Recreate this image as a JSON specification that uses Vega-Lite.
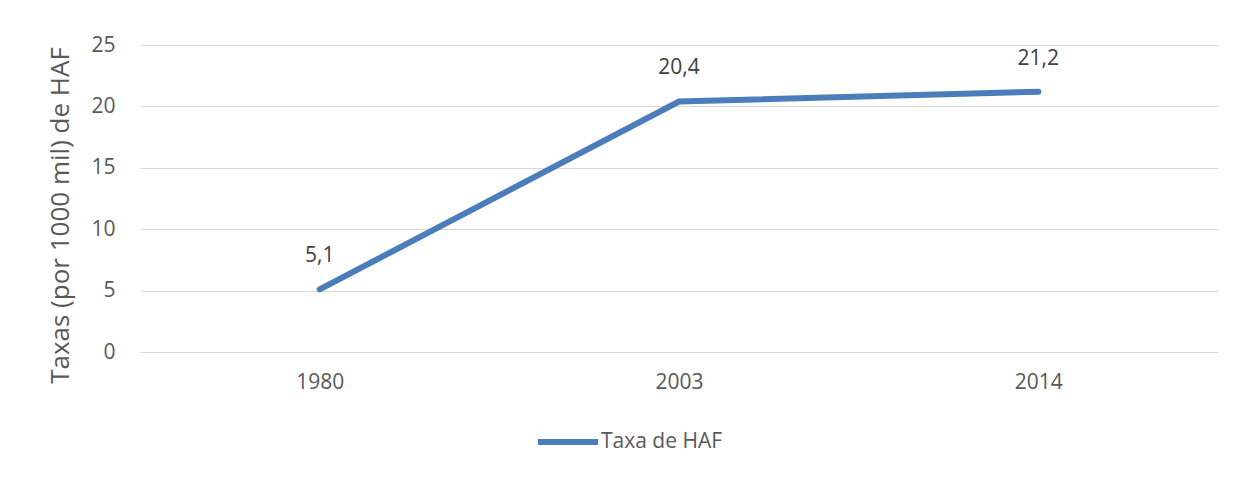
{
  "$schema": "https://vega.github.io/schema/vega-lite/v6.json",
  "autosize": {"type": "none"},
  "padding": {"left": 140, "top": 45, "right": 18, "bottom": 127},
  "width": 1078,
  "height": 307,
  "background": "white",
  "config": {
    "view": {"stroke": null},
    "font": "Open Sans",
    "axis": {"labelColor": "#595959", "titleColor": "#595959", "labelFont": "Open Sans", "titleFont": "Open Sans"}
  },
  "data": {"values": [
    {"ano": "1980", "taxa": 5.1, "rotulo": "5,1", "serie": "Taxa de HAF"},
    {"ano": "2003", "taxa": 20.4, "rotulo": "20,4", "serie": "Taxa de HAF"},
    {"ano": "2014", "taxa": 21.2, "rotulo": "21,2", "serie": "Taxa de HAF"}
  ]},
  "encoding": {
    "x": {"field": "ano", "type": "ordinal", "scale": {"paddingInner": 0, "paddingOuter": 0, "align": 0.5}, "axis": {"title": null, "labelAngle": 0, "ticks": false, "domain": false, "labelFontSize": 21, "labelPadding": 19, "grid": false}},
    "y": {"field": "taxa", "type": "quantitative", "scale": {"domain": [0, 25]}, "axis": {"values": [0, 5, 10, 15, 20, 25], "title": "Taxas (por 1000 mil) de HAF", "titleFontSize": 26, "titleFontWeight": "normal", "titleAngle": -90, "titleX": -80, "titleY": 170, "titleAlign": "center", "titleBaseline": "middle", "ticks": false, "domain": false, "labelFontSize": 21, "labelPadding": 25, "gridColor": "#d9d9d9", "gridWidth": 1.2}}
  },
  "layer": [
    {
      "mark": {"type": "line", "strokeWidth": 6, "strokeCap": "round", "color": "#4a7dba"},
      "encoding": {
        "color": {"field": "serie", "type": "nominal", "scale": {"range": ["#4a7dba"]}, "legend": {"title": null, "orient": "none", "legendX": 395, "legendY": 364, "symbolType": "stroke", "symbolSize": 3600, "symbolStrokeWidth": 6, "labelFontSize": 21, "labelColor": "#595959", "labelOffset": 0, "labelFont": "Open Sans"}}
      }
    },
    {
      "mark": {"type": "text", "dy": -33, "fontSize": 21, "color": "#404040", "font": "Open Sans"},
      "encoding": {"text": {"field": "rotulo"}}
    }
  ]
}
